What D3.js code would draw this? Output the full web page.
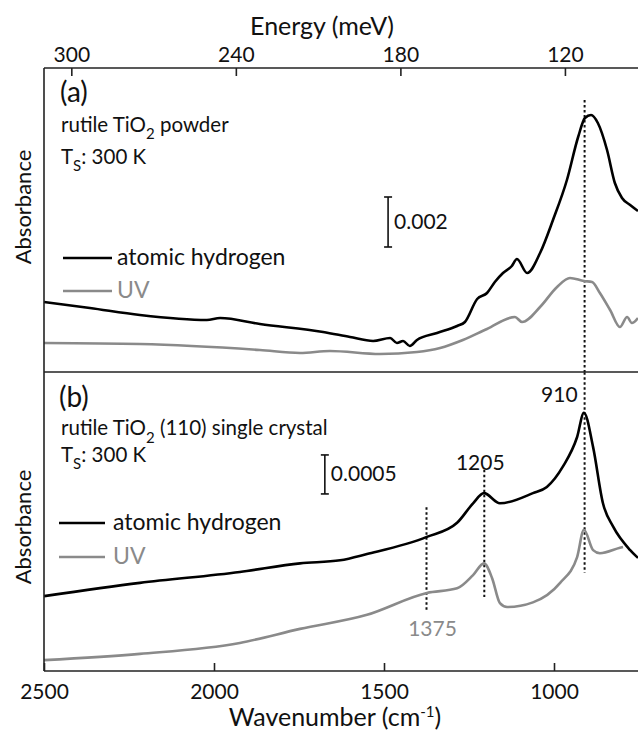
<!DOCTYPE html>
<html>
<head>
<meta charset="utf-8">
<script src="https://cdnjs.cloudflare.com/ajax/libs/d3/7.8.5/d3.min.js"></script>
<style>
  body { margin: 0; background: #fff; }
  svg text { font-family: Lato, "Open Sans", sans-serif; fill: #111; }
</style>
</head>
<body>
<script>

/* Panel (a): rutile TiO2 powder, absorbance in units of 0.001 */
var wnPowderH  = [2500, 2365, 2218, 2021, 1982, 1865, 1679, 1600, 1532, 1482, 1462, 1444, 1424, 1403, 1344, 1285, 1262, 1226, 1197, 1174, 1150, 1124, 1109, 1079, 1041, 1003, 962, 929, 909, 891, 871, 844, 821, 800, 776, 753];
var absPowderH = [2.80, 2.56, 2.28, 2.08, 2.16, 1.92, 1.60, 1.40, 1.24, 1.36, 1.16, 1.24, 1.04, 1.28, 1.56, 1.84, 2.00, 2.92, 3.16, 3.60, 3.96, 4.24, 4.52, 3.96, 4.76, 6.08, 7.68, 9.40, 10.16, 10.28, 9.96, 8.88, 7.56, 6.96, 6.68, 6.44];

var wnPowderUV  = [2500, 2218, 1865, 1747, 1659, 1512, 1403, 1335, 1268, 1197, 1115, 1094, 1041, 991, 953, 912, 888, 865, 835, 806, 785, 771, 753];
var absPowderUV = [1.16, 1.12, 0.88, 0.76, 0.84, 0.72, 0.80, 0.96, 1.28, 1.72, 2.20, 2.00, 2.60, 3.40, 3.76, 3.64, 3.60, 3.16, 2.48, 1.80, 2.20, 1.96, 2.16];

/* Panel (b): rutile TiO2(110) single crystal */
var wnCrystalH  = [2500, 2218, 1924, 1747, 1629, 1550, 1374, 1285, 1238, 1206, 1159, 1062, 1021, 974, 932, 912, 885, 856, 826, 776, 753];
var absCrystalH = [0.96, 1.13, 1.27, 1.38, 1.42, 1.50, 1.72, 1.90, 2.15, 2.28, 2.15, 2.28, 2.36, 2.62, 3.00, 3.31, 2.87, 2.15, 1.85, 1.55, 1.45];

var wnCrystalUV  = [2500, 2218, 1924, 1747, 1550, 1374, 1285, 1238, 1206, 1182, 1159, 1138, 1062, 982, 932, 912, 885, 865, 806, 797];
var absCrystalUV = [0.14, 0.22, 0.36, 0.54, 0.72, 1.00, 1.06, 1.23, 1.38, 1.19, 0.87, 0.82, 0.88, 1.13, 1.46, 1.81, 1.55, 1.51, 1.58, 1.59];

/* Peak markers (wavenumber, line top, line bottom) */
var peaksA    = [910];
var peakTopA  = [10.88];
var peakBotA  = [0];
var peaksB    = [910, 1205, 1375];
var peakTopB  = [3.83, 2.58, 2.10];
var peakBotB  = [1.26, 0.95, 0.78];
var peakLabelsB = ["910", "1205", "1375"];

/* Axis ticks */
var wnMajor = [2500, 2000, 1500, 1000];
var wnMinor = d3.range(800, 2500, 100);
var meVMajor = [300, 240, 180, 120];
var meVMinor = d3.range(96, 310, 12);

var CM_PER_MEV = 8.06554;

var width = 638,
    height = 731;

/* plot frame edges (panel a on top, panel b below) */
var plotLeft = 44, plotTop = 68, plotMid = 372, plotBottom = 671;

var svg = d3.select("body").append("svg")
    .attr("width", width)
    .attr("height", height);

/* x scale: wavenumber runs right to left */
var x = d3.scaleLinear()
    .domain([2500, 750])
    .range([plotLeft, plotLeft + 1750 * 0.34]);

/* energy scale on top, same pixels */
var xE = d3.scaleLinear()
    .domain([2500 / CM_PER_MEV, 750 / CM_PER_MEV])
    .range(x.range());

var yA = d3.scaleLinear().domain([0, (plotMid - plotTop) / 25]).range([plotMid, plotTop]);
var yB = d3.scaleLinear().domain([0, (plotBottom - plotMid) / 78]).range([plotBottom, plotMid]);

function zipped(wn, ab) { return wn.map(function(d, i) { return [d, ab[i]]; }); }

function drawCurve(data, yScale, color) {
    var line = d3.line()
        .x(function(d) { return x(d[0]); })
        .y(function(d) { return yScale(d[1]); })
        .curve(d3.curveMonotoneX);
    svg.append("path")
        .datum(data)
        .attr("d", line)
        .attr("fill", "none")
        .attr("stroke", color)
        .attr("stroke-width", 2.6)
        .attr("stroke-linejoin", "round");
}

var gray = "#8a8a8a";

/* dotted peak markers */
peaksA.forEach(function(p, i) {
    svg.append("line")
        .attr("x1", x(p)).attr("x2", x(p))
        .attr("y1", yA(peakTopA[i])).attr("y2", yA(peakBotA[i]))
        .attr("stroke", "#111").attr("stroke-width", 2)
        .attr("stroke-dasharray", "2.5,2.5");
});
peaksB.forEach(function(p, i) {
    svg.append("line")
        .attr("x1", x(p)).attr("x2", x(p))
        .attr("y1", yB(peakTopB[i])).attr("y2", yB(peakBotB[i]))
        .attr("stroke", "#111").attr("stroke-width", 2)
        .attr("stroke-dasharray", "2.5,2.5");
});

/* spectra */
drawCurve(zipped(wnPowderUV, absPowderUV), yA, gray);
drawCurve(zipped(wnPowderH, absPowderH), yA, "#000");
drawCurve(zipped(wnCrystalUV, absCrystalUV), yB, gray);
drawCurve(zipped(wnCrystalH, absCrystalH), yB, "#000");

/* peak labels in panel b */
svg.append("text").attr("x", x(910) - 7).attr("y", 402)
    .attr("text-anchor", "end").attr("font-size", 21).text(peakLabelsB[0]);
svg.append("text").attr("x", x(1205) - 4).attr("y", 470)
    .attr("text-anchor", "middle").attr("font-size", 21).text(peakLabelsB[1]);
svg.append("text").attr("x", x(1375) + 6).attr("y", 636)
    .attr("text-anchor", "middle").attr("font-size", 21)
    .style("fill", gray).text(peakLabelsB[2]);

/* frame */
var frame = svg.append("g").attr("stroke", "#222").attr("stroke-width", 1.6);
frame.append("line").attr("x1", plotLeft).attr("x2", width).attr("y1", plotTop).attr("y2", plotTop);
frame.append("line").attr("x1", plotLeft).attr("x2", width).attr("y1", plotMid).attr("y2", plotMid);
frame.append("line").attr("x1", plotLeft).attr("x2", width).attr("y1", plotBottom).attr("y2", plotBottom);
frame.append("line").attr("x1", plotLeft).attr("x2", plotLeft).attr("y1", plotTop).attr("y2", plotBottom);

/* bottom axis, ticks pointing inward */
var gBottom = svg.append("g").attr("transform", "translate(0," + plotBottom + ")");
gBottom.call(d3.axisBottom(x).tickValues(wnMinor).tickSize(-5).tickFormat(""));
gBottom.call(d3.axisBottom(x).tickValues(wnMajor).tickSize(-8).tickPadding(13).tickFormat(d3.format("d")));

/* top axis in meV */
var gTop = svg.append("g").attr("transform", "translate(0," + plotTop + ")");
gTop.call(d3.axisTop(xE).tickValues(meVMinor).tickSize(-5).tickFormat(""));
gTop.call(d3.axisTop(xE).tickValues(meVMajor).tickSize(-8).tickPadding(6).tickFormat(d3.format("d")));

svg.selectAll(".domain").remove();
svg.selectAll(".tick line").attr("stroke", "#222").attr("stroke-width", 1.6);
svg.selectAll(".tick text")
    .attr("font-size", 21)
    .style("font-family", "Lato, sans-serif")
    .attr("fill", "#111");

/* axis titles */
svg.append("text").attr("x", 322).attr("y", 35)
    .attr("text-anchor", "middle").attr("font-size", 25).text("Energy (meV)");

var wl = svg.append("text").attr("x", 335).attr("y", 726)
    .attr("text-anchor", "middle").attr("font-size", 25);
wl.append("tspan").text("Wavenumber (cm");
wl.append("tspan").attr("dy", -9).attr("font-size", 15).text("-1");
wl.append("tspan").attr("dy", 9).text(")");

[207, 527].forEach(function(cy) {
    svg.append("text")
        .attr("transform", "translate(31," + cy + ") rotate(-90)")
        .attr("text-anchor", "middle")
        .attr("font-size", 22)
        .text("Absorbance");
});

/* panel captions */
function subText(xp, yp, size, parts) {
    var t = svg.append("text").attr("x", xp).attr("y", yp).attr("font-size", size);
    parts.forEach(function(p) {
        t.append("tspan").attr("dy", p[1]).attr("font-size", p[2] || size).text(p[0]);
    });
    return t;
}

svg.append("text").attr("x", 60).attr("y", 102).attr("font-size", 28).text("(a)");
subText(61, 132, 20.5, [["rutile TiO", 0], ["2", 7, 15], [" powder", -7]]);
subText(61, 164, 20.5, [["T", 0], ["S", 7, 15], [": 300 K", -7]]);

svg.append("text").attr("x", 59).attr("y", 407).attr("font-size", 28).text("(b)");
subText(61, 435, 20.5, [["rutile TiO", 0], ["2", 8, 15], [" (110) single crystal", -8]]);
subText(61, 462, 20.5, [["T", 0], ["S", 7, 15], [": 300 K", -7]]);

/* legends */
function legend(x0, x1, tx, yH, yU) {
    svg.append("line").attr("x1", x0).attr("x2", x1).attr("y1", yH).attr("y2", yH)
        .attr("stroke", "#000").attr("stroke-width", 2.6);
    svg.append("text").attr("x", tx).attr("y", yH + 7).attr("font-size", 23).text("atomic hydrogen");
    svg.append("line").attr("x1", x0).attr("x2", x1).attr("y1", yU).attr("y2", yU)
        .attr("stroke", gray).attr("stroke-width", 2.6);
    svg.append("text").attr("x", tx).attr("y", yU + 7).attr("font-size", 23)
        .style("fill", gray).text("UV");
}
legend(63, 112, 117, 258, 291);
legend(59, 105, 113, 523, 557);

/* scale bars */
function scaleBar(wn, yScale, lo, hi, label) {
    var bx = x(wn);
    var g = svg.append("g").attr("stroke", "#111").attr("stroke-width", 1.6);
    g.append("line").attr("x1", bx).attr("x2", bx).attr("y1", yScale(lo)).attr("y2", yScale(hi));
    g.append("line").attr("x1", bx - 4).attr("x2", bx + 4).attr("y1", yScale(lo)).attr("y2", yScale(lo));
    g.append("line").attr("x1", bx - 4).attr("x2", bx + 4).attr("y1", yScale(hi)).attr("y2", yScale(hi));
    svg.append("text").attr("x", bx + 6).attr("y", (yScale(lo) + yScale(hi)) / 2 + 7)
        .attr("font-size", 21).text(label);
}
scaleBar(1488, yA, 5.0, 7.0, "0.002");
scaleBar(1674, yB, 2.27, 2.77, "0.0005");

</script>
</body>
</html>
